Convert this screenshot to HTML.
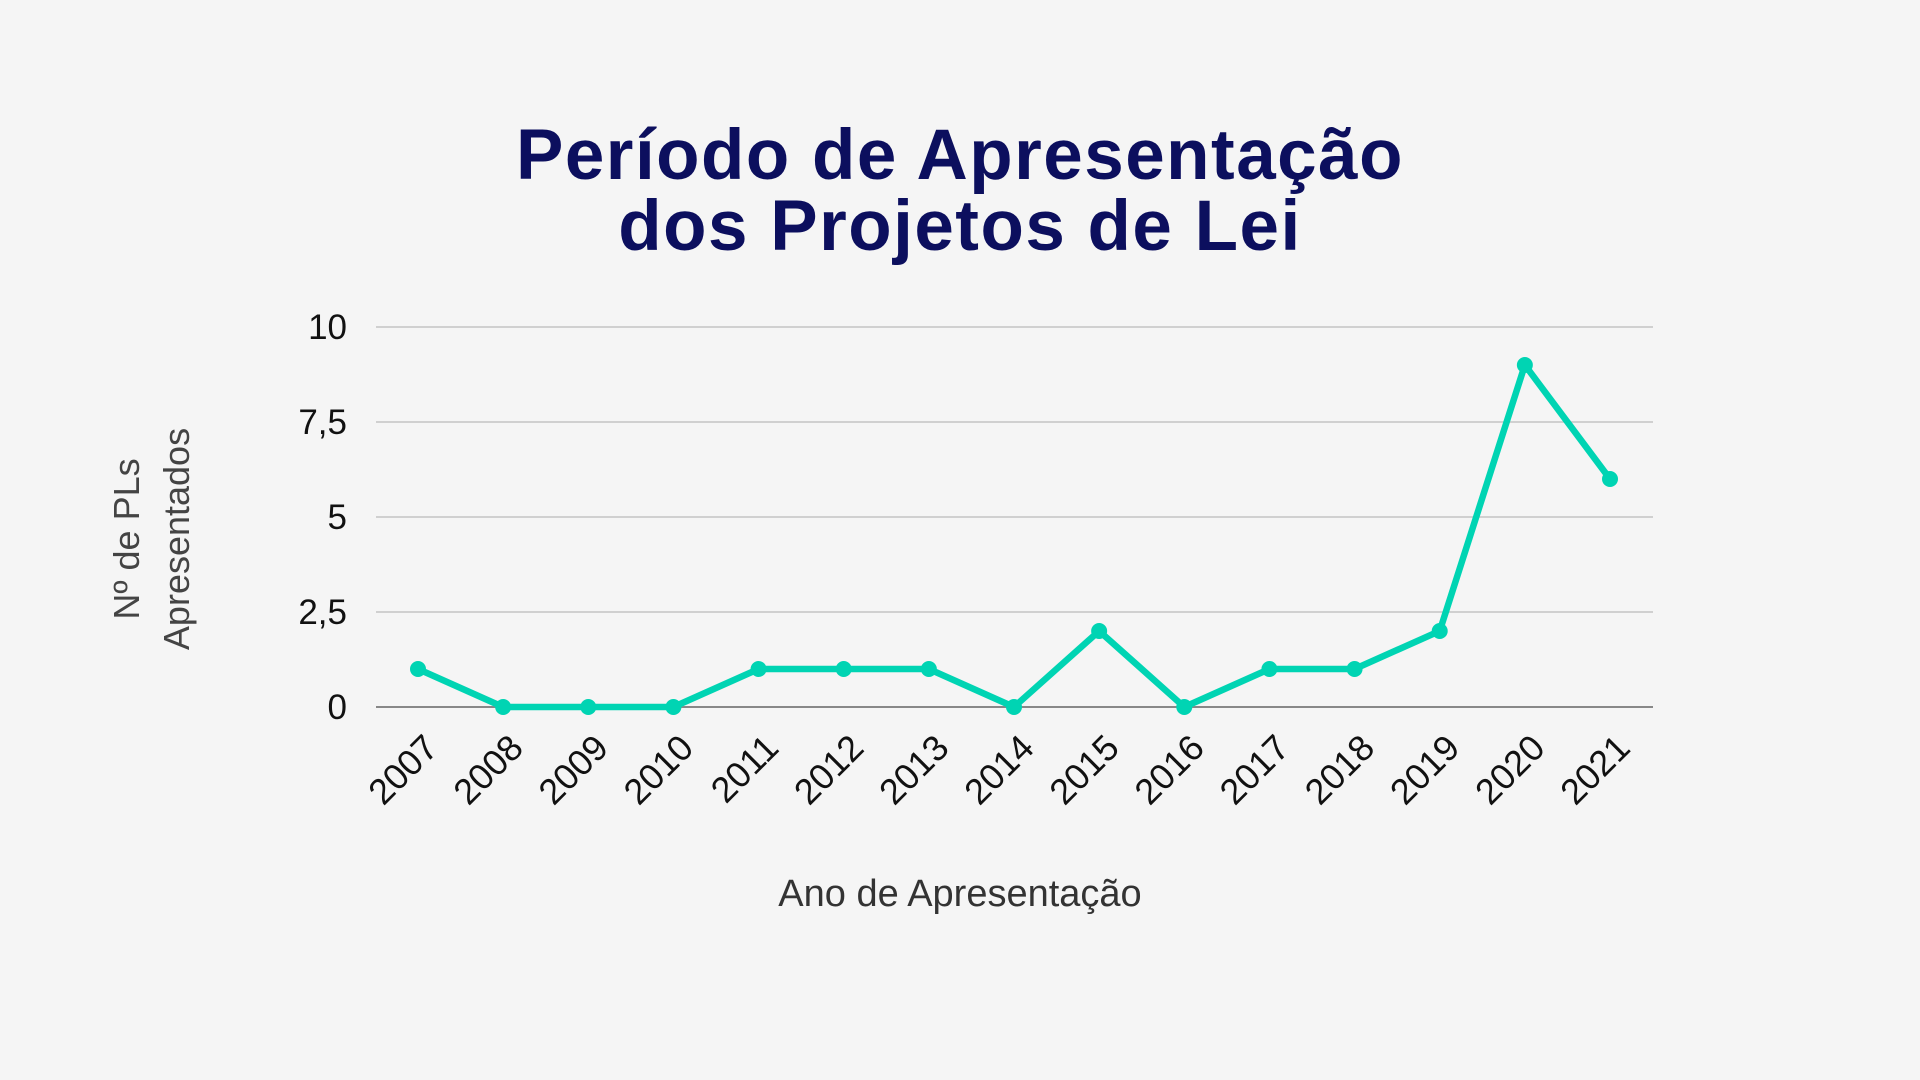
<!DOCTYPE html>
<html><head><meta charset="utf-8"><style>
html,body{margin:0;padding:0;background:#f5f5f5;width:1920px;height:1080px;overflow:hidden}
svg{display:block}
</style></head><body>
<svg id="chart" width="1920" height="1080" viewBox="0 0 1920 1080" xmlns="http://www.w3.org/2000/svg">
<rect width="1920" height="1080" fill="#f5f5f5"/>
<text x="960" y="179" text-anchor="middle" font-family="Liberation Sans, sans-serif" font-weight="bold" font-size="71" fill="#0c0f5e" letter-spacing="1.5">Período de Apresentação</text>
<text x="960" y="250" text-anchor="middle" font-family="Liberation Sans, sans-serif" font-weight="bold" font-size="71" fill="#0c0f5e" letter-spacing="1.5">dos Projetos de Lei</text>
<g id="grid"></g><g id="yticks"></g><g id="xticks"></g><g id="series"></g>
<text x="960" y="906" text-anchor="middle" font-family="Liberation Sans, sans-serif" font-size="38" fill="#333">Ano de Apresentação</text>
<g transform="translate(155,539) rotate(-90)">
<text x="0" y="-16" text-anchor="middle" font-family="Liberation Sans, sans-serif" font-size="36" fill="#444">Nº de PLs</text>
<text x="0" y="34" text-anchor="middle" font-family="Liberation Sans, sans-serif" font-size="36" fill="#444">Apresentados</text>
</g>
</svg>
<script>
const categories=['2007','2008','2009','2010','2011','2012','2013','2014','2015','2016','2017','2018','2019','2020','2021'];
const values=[1,0,0,0,1,1,1,0,2,0,1,1,2,9,6];
const yTicks=[0,2.5,5,7.5,10];
const yTickLabels=['0','2,5','5','7,5','10'];
const NS='http://www.w3.org/2000/svg';
const x0=418,dx=(1610-418)/14,yBase=707,yTop=327,yMax=10;
function xs(i){return x0+i*dx;}
function ys(v){return yBase-(v/yMax)*(yBase-yTop);}
function mk(t,a,p){const e=document.createElementNS(NS,t);for(const k in a)e.setAttribute(k,a[k]);p.appendChild(e);return e;}
const grid=document.getElementById('grid'),yt=document.getElementById('yticks'),xt=document.getElementById('xticks'),se=document.getElementById('series');
yTicks.forEach((v,i)=>{
 const l=mk('line',{x1:376,x2:1653,y1:ys(v),y2:ys(v),stroke:v===0?'#888':'#c4c4c4','stroke-width':v===0?2:1.5},grid);
 
 
 const t=mk('text',{x:347,y:ys(v)+12,'text-anchor':'end','font-family':'Liberation Sans, sans-serif','font-size':35,fill:'#111'},yt);
 t.textContent=yTickLabels[i];
 
 
});
categories.forEach((c,i)=>{
 const t=mk('text',{transform:`translate(${xs(i)+22},${750}) rotate(-45)`,'text-anchor':'end','font-family':'Liberation Sans, sans-serif','font-size':36,fill:'#111'},xt);
 t.textContent=c;
 
 
});
const pl=mk('polyline',{points:values.map((v,i)=>xs(i)+','+ys(v)).join(' '),fill:'none',stroke:'#00d4b3','stroke-width':6.5,'stroke-linejoin':'round'},se);


values.forEach((v,i)=>{
 const c=mk('circle',{cx:xs(i),cy:ys(v),r:8,fill:'#00d4b3'},se);
 
 
});
</script>
</body></html>
